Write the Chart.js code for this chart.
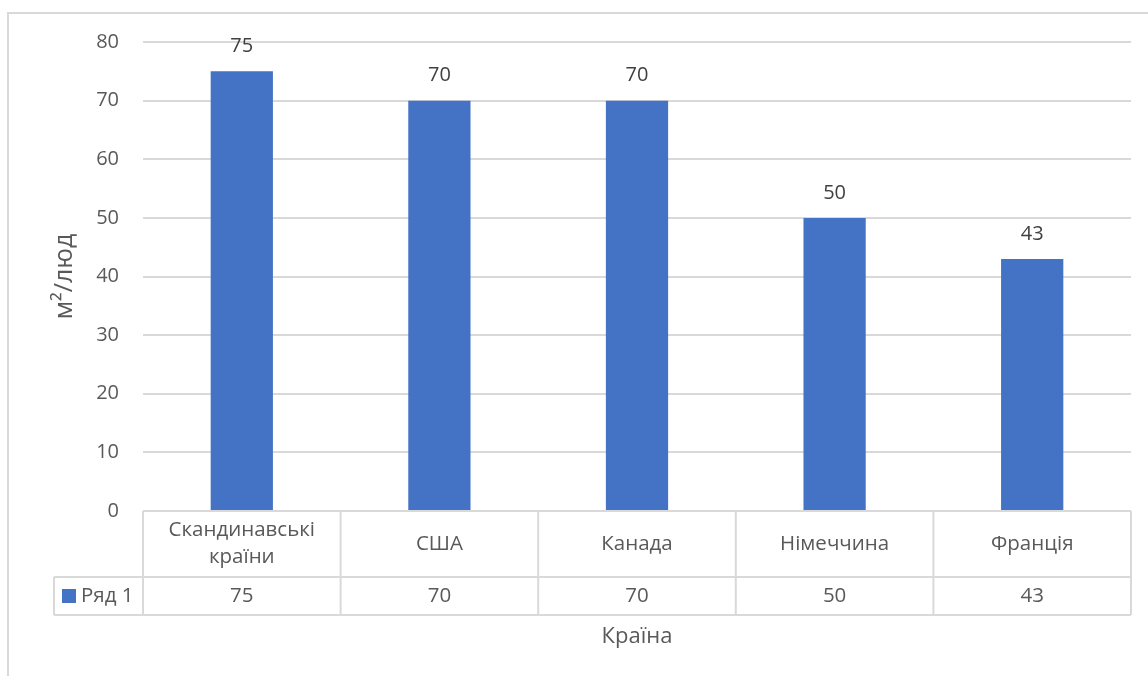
<!DOCTYPE html>
<html lang="uk">
<head>
<meta charset="utf-8">
<title>Житлова площа на людину</title>
<script src="https://cdn.jsdelivr.net/npm/chart.js@4.4.1/dist/chart.umd.min.js"></script>
<style>
  html, body { margin: 0; padding: 0; background: #fff; }
  canvas { display: block; }
</style>
</head>
<body>
<canvas id="chartArea" width="1148" height="676"></canvas>
<script>
const countries = [['Скандинавські', 'країни'], 'США', 'Канада', 'Німеччина', 'Франція'];
const areaPerPerson = [75, 70, 70, 50, 43];
const seriesName = 'Ряд 1';
const yTicks = [0, 10, 20, 30, 40, 50, 60, 70, 80];

const textColor = '#595959';
const lineColor = '#d9d9d9';
const barColor = '#4472c4';
const fontFamily = "'Open Sans', 'Noto Sans', sans-serif";

// рамка області діаграми
const frame = {
  id: 'frame',
  beforeDraw(chart) {
    const c = chart.ctx;
    c.save();
    c.fillStyle = '#fff';
    c.fillRect(0, 0, chart.width, chart.height);
    c.strokeStyle = lineColor;
    c.lineWidth = 2;
    c.beginPath();
    c.moveTo(8, chart.height);
    c.lineTo(8, 13);
    c.lineTo(chart.width, 13);
    c.stroke();
    c.restore();
  }
};

// підписи значень над стовпчиками
const barLabels = {
  id: 'barLabels',
  afterDatasetsDraw(chart) {
    const c = chart.ctx;
    const meta = chart.getDatasetMeta(0);
    c.save();
    c.font = `20px ${fontFamily}`;
    c.fillStyle = '#404040';
    c.textAlign = 'center';
    c.textBaseline = 'middle';
    meta.data.forEach((bar, i) => {
      c.fillText(areaPerPerson[i], bar.x, bar.y - 25);
    });
    c.restore();
  }
};

// таблиця даних під віссю категорій
const dataTable = {
  id: 'dataTable',
  afterDraw(chart) {
    const c = chart.ctx;
    const x = chart.scales.x;
    const top = chart.scales.y.getPixelForValue(0);
    const rowSplit = top + 66;
    const bottom = top + 104;
    const legendLeft = 54;
    const step = (x.right - x.left) / countries.length;
    c.save();
    c.strokeStyle = lineColor;
    c.lineWidth = 2;
    c.beginPath();
    c.moveTo(x.left, top); c.lineTo(x.right, top);
    c.moveTo(legendLeft, rowSplit); c.lineTo(x.right, rowSplit);
    c.moveTo(legendLeft, bottom); c.lineTo(x.right, bottom);
    c.moveTo(legendLeft, rowSplit); c.lineTo(legendLeft, bottom);
    for (let i = 0; i <= countries.length; i++) {
      const xx = x.left + step * i;
      c.moveTo(xx, top); c.lineTo(xx, bottom);
    }
    c.stroke();

    c.font = `20.5px ${fontFamily}`;
    c.fillStyle = textColor;
    c.textAlign = 'center';
    c.textBaseline = 'middle';
    countries.forEach((name, i) => {
      const cx = x.getPixelForValue(i);
      const lines = Array.isArray(name) ? name : [name];
      const mid = (top + rowSplit) / 2;
      lines.forEach((line, j) => {
        c.fillText(line, cx, mid + (j - (lines.length - 1) / 2) * 27);
      });
      c.fillText(areaPerPerson[i], cx, (rowSplit + bottom) / 2);
    });

    const rowMid = (rowSplit + bottom) / 2;
    c.fillStyle = barColor;
    c.fillRect(62, rowMid - 7, 14, 14);
    c.fillStyle = textColor;
    c.textAlign = 'left';
    c.fillText(seriesName, 81, rowMid);
    c.restore();
  }
};

new Chart(document.getElementById('chartArea'), {
  type: 'bar',
  data: {
    labels: countries,
    datasets: [{
      label: seriesName,
      data: areaPerPerson,
      backgroundColor: barColor,
      borderWidth: 0,
      categoryPercentage: 1,
      barPercentage: 0.315
    }]
  },
  options: {
    responsive: false,
    animation: false,
    events: [],
    layout: { padding: { left: 50, right: 17, top: 42, bottom: 25 } },
    plugins: {
      legend: { display: false },
      tooltip: { enabled: false }
    },
    scales: {
      x: {
        grid: { display: false },
        border: { display: false },
        ticks: { display: false },
        title: {
          display: true,
          text: 'Країна',
          color: textColor,
          font: { family: fontFamily, size: 22 },
          padding: { top: 0, bottom: 1 }
        },
        afterFit: scale => { scale.height = 140; }
      },
      y: {
        min: 0,
        max: 80,
        afterBuildTicks: scale => { scale.ticks = yTicks.map(v => ({ value: v })); },
        grid: { color: lineColor, lineWidth: 2, drawTicks: false },
        border: { display: false },
        ticks: {
          color: textColor,
          font: { family: fontFamily, size: 20 },
          padding: 24
        },
        title: {
          display: true,
          text: 'м²/люд',
          color: '#595959',
          font: { family: fontFamily, size: 25 },
          padding: { top: 0, bottom: 0 }
        },
        afterFit: scale => { scale.width = 93; }
      }
    }
  },
  plugins: [frame, barLabels, dataTable]
});
</script>
</body>
</html>
